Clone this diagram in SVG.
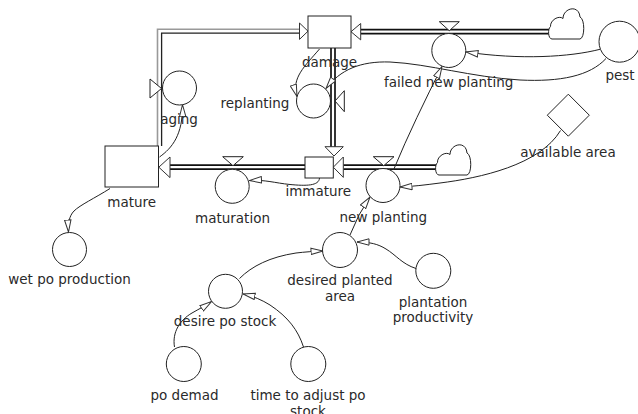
<svg xmlns="http://www.w3.org/2000/svg" xmlns:xlink="http://www.w3.org/1999/xlink" width="638" height="414" viewBox="0 0 638 414">
<style>
  .txt { font-family: "DejaVu Sans", Verdana, sans-serif; font-size: 13.5px; fill: #2a2a2a; text-anchor: middle; }
  .shape { fill: #fff; stroke: #222; stroke-width: 1; }
  .link { fill: none; stroke: #222; stroke-width: 1; marker-end: url(#ah); }
  .pipeOut { fill: none; stroke: #111; stroke-width: 5.7; }
  .pipeIn { fill: none; stroke: #fff; stroke-width: 2.3; }
  .head { fill: #fff; stroke: #333; stroke-width: 1; }
</style>
<defs>
  <marker id="ah" markerUnits="userSpaceOnUse" markerWidth="13" markerHeight="8" viewBox="0 0 13 8" refX="12.5" refY="4" orient="auto">
    <path d="M0.5,0.8 L12.5,4 L0.5,7.2 Z" fill="#fff" stroke="#333" stroke-width="1"/>
  </marker>
  <path id="cloud" d="M4,32 C0,32 -0.5,22 2.5,19.5 C2,13 11,8 15,11.5 C15,1 31,-3 32,10 C37,12 37,31 32,32 Z" fill="#fff" stroke="#222" stroke-width="1"/>
</defs>
<rect width="638" height="414" fill="#fff"/>

<g id="connectors">
  <!-- pipe mature -> damage -->
  <path d="M157.5,146 L157.5,29.2 L300,29.2" fill="none" stroke="#999" stroke-width="1.6"/>
  <path d="M161.6,146 L161.6,33.2 L300,33.2" fill="none" stroke="#222" stroke-width="1.3"/>
  <polygon class="head" points="299.5,23 308,31.2 299.5,39.4"/>
  <!-- pipe cloud -> damage -->
  <path class="pipeOut" d="M549,31.7 L360.7,31.7"/>
  <path class="pipeIn" d="M549,31.7 L360.7,31.7"/>
  <polygon class="head" points="360.7,23.5 351,31.7 360.7,39.9"/>
  <!-- pipe damage -> immature -->
  <path class="pipeOut" d="M333,48 L333,147"/>
  <path class="pipeIn" d="M333,48 L333,147"/>
  <polygon class="head" points="325,146.7 343.3,146.7 334,156"/>
  <!-- pipe immature -> mature -->
  <path class="pipeOut" d="M305,167.2 L170,167.2"/>
  <path class="pipeIn" d="M305,167.2 L170,167.2"/>
  <polygon class="head" points="170,157 158.8,167.2 170,177.6"/>
  <!-- pipe cloud -> immature -->
  <path class="pipeOut" d="M436,167.2 L343.3,167.2"/>
  <path class="pipeIn" d="M436,167.2 L343.3,167.2"/>
  <polygon class="head" points="343.3,157 333.3,167.2 343.3,177.4"/>

  <!-- information links -->
  <path class="link" d="M159.5,157 C172,148 183,135 182.5,104.7"/>
  <path class="link" d="M319.5,49 C305,66 291,78 297,96.5"/>
  <path class="link" d="M600,49.3 C570,57 520,60 466,52"/>
  <path class="link" d="M606,58.5 C590,76 560,82 520,80 C470,77 430,64 390,62 C360,61 340,70 326,88.5"/>
  <path class="link" d="M319.5,178 C319,186 306,186 290,184.5 C275,183 265,179.5 249.5,180.5"/>
  <path class="link" d="M110,188.5 C95,198 80,205 74,211 C69,216 68,224 68.5,232"/>
  <path class="link" d="M560.5,130.5 C540,165 480,178 440,183 C425,185 412,186.5 400,187"/>
  <path class="link" d="M393.5,170 C408,135 425,100 442,66.5"/>
  <path class="link" d="M350,235 Q358,214 370,197"/>
  <path class="link" d="M416,268.5 C402,264 396,255 386,249 C378,244 370,242 357,242"/>
  <path class="link" d="M239.5,278.5 C252,266 270,257 296,253 C305,252 313,251.3 323,251"/>
  <path class="link" d="M174.5,347 C172,332 180,320 192,313 C199,309 205,306 211.5,301.5"/>
  <path class="link" d="M303.5,347 C298,330 288,317 270,305 C262,300 253,296 243,294"/>
</g>

<g id="cloud1"><use href="#cloud" x="548" y="7"/></g>
<g id="cloud2"><use href="#cloud" x="435" y="143"/></g>

<g id="damage">
  <rect class="shape" x="308" y="16" width="43" height="32"/>
  <text class="txt" x="329.5" y="67">damage</text>
</g>
<g id="mature">
  <rect class="shape" x="105" y="146" width="53.5" height="41"/>
  <text class="txt" x="131.7" y="206.5">mature</text>
</g>
<g id="immature">
  <rect class="shape" x="305" y="157" width="28.3" height="21"/>
  <text class="txt" x="318.3" y="196">immature</text>
</g>

<g id="aging">
  <polygon class="shape" points="150,79 150,98 161.5,88.5"/>
  <circle class="shape" cx="179.5" cy="88" r="17"/>
  <text class="txt" x="179" y="124">aging</text>
</g>
<g id="replanting">
  <polygon class="shape" points="344.3,90.7 344.3,111.7 335,101"/>
  <circle class="shape" cx="313.5" cy="101" r="17"/>
  <text class="txt" x="255" y="107.5">replanting</text>
</g>
<g id="failed_new_planting">
  <polygon class="shape" points="439.3,21.7 459.3,21.7 449.3,30.7"/>
  <circle class="shape" cx="448.8" cy="50.5" r="17"/>
  <text class="txt" x="448.7" y="86.8">failed new planting</text>
</g>
<g id="maturation">
  <polygon class="shape" points="222.7,156.7 243.3,156.7 233,165.7"/>
  <circle class="shape" cx="232.2" cy="186.3" r="17"/>
  <text class="txt" x="232.5" y="222.5">maturation</text>
</g>
<g id="new_planting">
  <polygon class="shape" points="373.3,156.7 394,156.7 383.7,165.7"/>
  <circle class="shape" cx="383" cy="185.5" r="17"/>
  <text class="txt" x="383.3" y="222.3">new planting</text>
</g>

<g id="pest">
  <circle class="shape" cx="619.5" cy="41.7" r="20.5"/>
  <text class="txt" x="620" y="79.5">pest</text>
</g>
<g id="available_area">
  <polygon class="shape" points="568.3,94.2 589.3,115.2 568.3,136.2 547.3,115.2"/>
  <text class="txt" x="568" y="156.5">available area</text>
</g>
<g id="wet_po_production">
  <circle class="shape" cx="69.5" cy="249.5" r="17"/>
  <text class="txt" x="69.5" y="284.3">wet po production</text>
</g>
<g id="desired_planted_area">
  <circle class="shape" cx="340" cy="250" r="17.5"/>
  <text class="txt" x="340" y="285">desired planted</text>
  <text class="txt" x="340" y="301">area</text>
</g>
<g id="plantation_productivity">
  <circle class="shape" cx="433.3" cy="270.8" r="17.5"/>
  <text class="txt" x="433" y="306.5">plantation</text>
  <text class="txt" x="433" y="322">productivity</text>
</g>
<g id="desire_po_stock">
  <circle class="shape" cx="225.5" cy="291.3" r="17"/>
  <text class="txt" x="225" y="326">desire po stock</text>
</g>
<g id="po_demad">
  <circle class="shape" cx="183.8" cy="364" r="17.5"/>
  <text class="txt" x="184.5" y="399.5">po demad</text>
</g>
<g id="time_to_adjust_po_stock">
  <circle class="shape" cx="308.3" cy="364" r="17.5"/>
  <text class="txt" x="308" y="400">time to adjust po</text>
  <text class="txt" x="308" y="416">stock</text>
</g>
</svg>
